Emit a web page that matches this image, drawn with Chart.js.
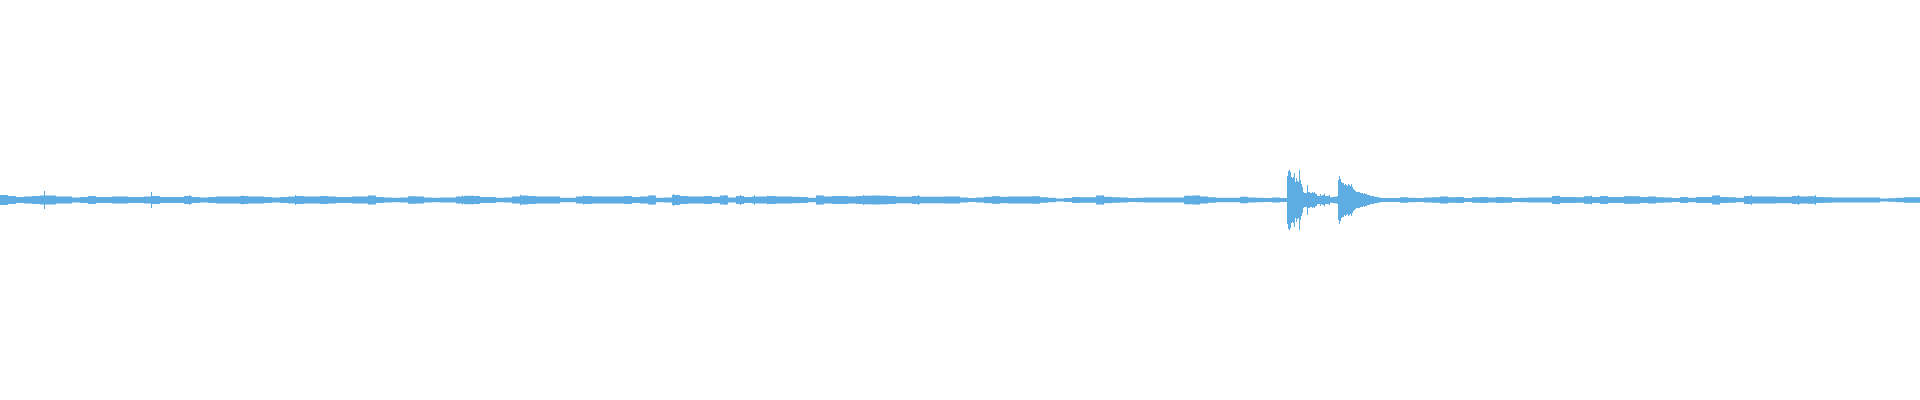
<!DOCTYPE html>
<html>
<head>
<meta charset="utf-8">
<script src="https://cdn.jsdelivr.net/npm/chart.js@4/dist/chart.umd.min.js"></script>
<style>
  html, body { margin: 0; padding: 0; background: #ffffff; }
  #wrap { width: 1920px; height: 400px; position: relative; }
</style>
</head>
<body>
<div id="wrap"><canvas id="wave"></canvas></div>
<script>
// waveform, amplitude in the same units as the y axis (full scale = 200)
// quiet envelope, one value per block of 8 columns (240 blocks)
const blockSize = 8;
const envelope = [
  5, 4, 3, 3.5, 4, 4.5, 4.5, 3.5, 3.5, 2.5, 3, 4, 3, 3, 3.5, 3.5, 3, 3, 3.5, 4,
  3, 3, 3, 4, 3, 2.5, 3, 3.5, 3.5, 3.5, 4, 3.5, 3.5, 3, 2.5, 3, 3.5, 4, 3.5, 3.5,
  4, 3.5, 3, 3, 3.5, 3.5, 4.5, 3, 2.5, 2.2, 2.5, 3.8, 3.5, 2.5, 2.2, 2.5, 2.5, 3.5, 4.2, 4,
  3, 3, 2.2, 2.5, 3.5, 4.5, 4, 3.5, 3.5, 3.5, 2.2, 2.2, 3.5, 4, 3.5, 3.5, 3.5, 3.5,
  4, 3, 3.5, 4.5, 2.2, 2.5, 5, 4, 3.5, 3.5, 4, 3.2, 4.5, 2.5, 4, 3, 3.5, 3.5, 4, 3.5,
  3.5, 3.2, 3, 2.2, 4.5, 3.5, 4, 4, 3.5, 4, 4.3, 4.5, 4.3, 4, 3.3, 3.3, 4, 3.3, 3.3, 3.3,
  3.5, 3.5, 2.5, 2, 2.5, 3.2, 3.8, 3.2, 3.5, 3.5, 3.5, 3.8, 2.8, 2.2, 1.5, 2, 3, 2.8, 2.8, 4.5,
  3.2, 2.8, 2.5, 2, 2.2, 2.5, 2.5, 2.5, 2.5, 2.5, 4.2, 4.5, 3.5, 2.8, 2.2, 2.2, 2.2, 3.2, 2.5, 2.2,
  2, 2.5, 2, 2, 2, 2, 2, 2, 2, 2, 2, 2, 2, 2, 2,
  2, 2, 2.8, 2.2, 2, 2.5, 2.8, 3.5, 2.8, 3,
  2, 2.8, 3, 2.5, 3, 2.8, 2, 2.2, 2.5, 2.5, 2.5, 4, 3, 3, 2.8, 3.8, 3, 4, 3, 3,
  3.8, 3.8, 3, 3.5, 2.8, 2.5, 2, 3, 2.2, 3,
  3, 4.5, 3, 2.8, 2.2, 4, 3.5, 3.5, 3.5, 3.2, 3.2, 4, 3.5, 3.8, 3, 2.8, 2.5, 2.5, 2.5, 2.5,
  2.5, 2.5, 1.5, 1.8, 2.2, 2.8, 2.8
];

// the two loud events, one value per column from column 1286
const burstStart = 1286;
const burst = [
  2, 24, 29, 30, 28, 23, 22, 23, 27, 18, 22, 19, 18, 30, 20, 16, 13, 8, 7, 7,
  7, 15, 8, 8, 7, 7, 8, 7, 8, 6.5, 6, 4, 4, 4, 6, 4, 5, 5, 6.5, 4,
  4, 4, 4, 5, 2.7, 2.7, 2.7, 3.3, 3.3, 3.3, 3.3, 4, 20, 24, 21, 18, 17, 17, 15, 16,
  15, 14, 16, 15, 14, 16, 13, 11, 10, 9, 8, 8, 8, 8, 7, 7, 7, 6, 7, 6,
  6, 5, 5, 5, 4, 4, 4, 4, 3.3, 3.3, 3.3, 2.7, 2.7, 2.7
];

// isolated single-column peaks in the quiet part
const spikeCols = [
  2, 44, 151, 189, 242, 295, 368, 462, 472, 520, 583, 652, 673, 725, 740, 754, 767, 817, 863, 918,
  998, 1103, 1187, 1198, 1243, 1558, 1591, 1603, 1630, 1718, 1751, 1798, 1815
];
const spikeAmps = [
  5, 9, 8, 5, 4.5, 5, 4.5, 4.5, 4.5, 5.2, 4.5, 5, 6, 5, 5, 5, 4.3, 4.7, 5, 5,
  4, 4.8, 4.5, 4.5, 3.5, 4.5, 4.5, 4, 4, 5, 5, 5, 5
];

const waveColor = 'rgb(93, 172, 226)';

const envData = envelope.map((a, i) => ({ x: i * blockSize + blockSize / 2, y: [-a, a] }));
const burstData = burst.map((a, i) => ({ x: burstStart + i + 0.5, y: [-a, a] }));
const spikeData = spikeCols.map((c, i) => ({ x: c + 0.5, y: [-spikeAmps[i], spikeAmps[i]] }));

const common = {
  backgroundColor: waveColor,
  borderWidth: 0,
  inflateAmount: 0,
  grouped: false
};

new Chart(document.getElementById('wave').getContext('2d'), {
  type: 'bar',
  data: {
    datasets: [
      { ...common, label: 'envelope', data: envData, barThickness: blockSize },
      { ...common, label: 'burst', data: burstData, barThickness: 1 },
      { ...common, label: 'spikes', data: spikeData, barThickness: 1 }
    ]
  },
  options: {
    responsive: true,
    maintainAspectRatio: false,
    animation: false,
    layout: { padding: 0 },
    scales: {
      x: { type: 'linear', min: 0, max: 1920, offset: false, display: false },
      y: { min: -200, max: 200, display: false }
    },
    plugins: {
      legend: { display: false },
      tooltip: { enabled: false }
    }
  }
});
</script>
</body>
</html>
